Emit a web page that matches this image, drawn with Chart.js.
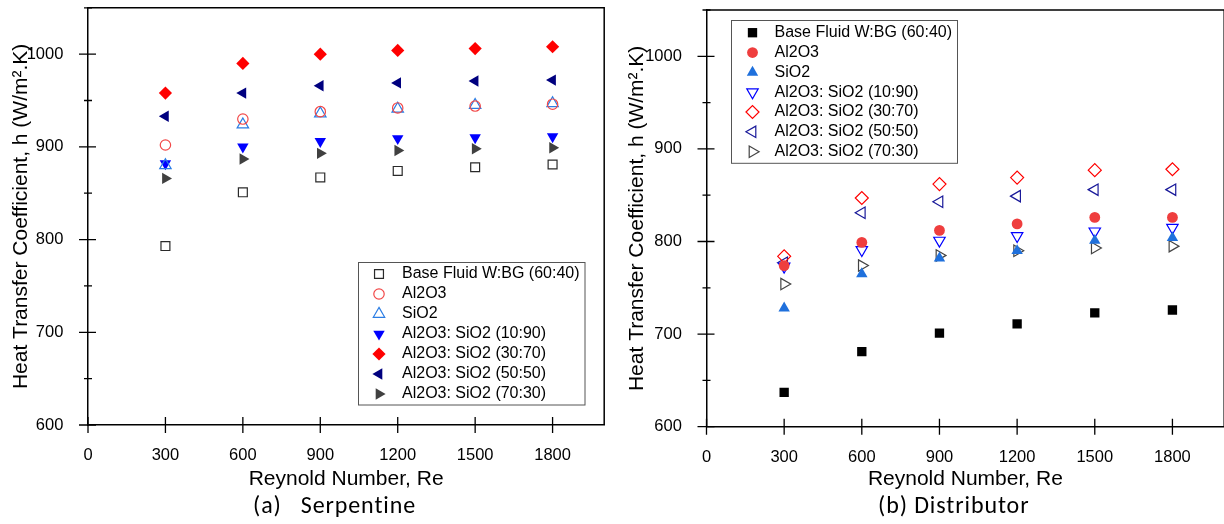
<!DOCTYPE html>
<html>
<head>
<meta charset="utf-8">
<script src="https://cdn.jsdelivr.net/npm/chart.js@4.4.0/dist/chart.umd.min.js"></script>
<style>
    body { margin: 0; width: 1224px; height: 524px; overflow: hidden; background: #fff; position: relative; }
    canvas { position: absolute; top: 0; }
    #serpentine { left: 0; }
    #distributor { left: 612px; }
    .caption { position: absolute; top: 493px; font: 24px Carlito, Lato, sans-serif; letter-spacing: 0.9px; line-height: 24px; white-space: pre; color: #000; }
</style>
</head>
<body>
<canvas id="serpentine" width="612" height="500"></canvas>
<canvas id="distributor" width="620" height="500"></canvas>
<div class="caption" style="left:253px">(a)   Serpentine</div>
<div class="caption" style="left:878px">(b) Distributor</div>
<script>
    const reynolds = [300, 600, 900, 1200, 1500, 1800];
    const seriesNames = ['Base Fluid W:BG (60:40)', 'Al2O3', 'SiO2', 'Al2O3: SiO2 (10:90)',
        'Al2O3: SiO2 (30:70)', 'Al2O3: SiO2 (50:50)', 'Al2O3: SiO2 (70:30)'];

    // heat transfer coefficient, serpentine channel
    const serpBase = [793, 851, 867, 874, 878, 881];
    const serpAl2O3 = [902, 930, 938, 942, 944, 946];
    const serpSiO2 = [880, 924, 936, 941, 945, 947];
    const serp1090 = [882, 900, 906, 909, 910, 911];
    const serp3070 = [958, 990, 1000, 1004, 1006, 1008];
    const serp5050 = [933, 958, 966, 969, 971, 972];
    const serp7030 = [866, 887, 893, 896, 898, 899];

    // heat transfer coefficient, distributor channel
    const distBase = [637, 681, 701, 711, 723, 726];
    const distAl2O3 = [774, 799, 812, 819, 826, 826];
    const distSiO2 = [728, 765, 782, 790, 801, 804];
    const dist1090 = [773, 791, 801, 806, 811, 815];
    const dist3070 = [784, 847, 862, 869, 877, 878];
    const dist5050 = [777, 831, 843, 849, 856, 856];
    const dist7030 = [754, 774, 785, 790, 793, 795];

    const FONT = "'Liberation Sans', Arial, sans-serif";

    const serpMarkers = [
        {style: 'rect', rot: 0, r: 6.3, color: '#2a2a2a', fill: false},
        {style: 'circle', rot: 0, r: 5.2, color: '#f24848', fill: false},
        {style: 'triangle', rot: 0, r: 6.6, color: '#2b7de4', fill: false},
        {style: 'triangle', rot: 180, r: 6.6, color: '#0000ff', fill: true},
        {style: 'rectRot', rot: 0, r: 6.6, color: '#ff0000', fill: true},
        {style: 'triangle', rot: -90, r: 6.6, color: '#00007f', fill: true},
        {style: 'triangle', rot: 90, r: 6.6, color: '#404040', fill: true}
    ];
    const distMarkers = [
        {style: 'rect', rot: 0, r: 6.6, color: '#000000', fill: true},
        {style: 'circle', rot: 0, r: 5.4, color: '#ef3e3e', fill: true},
        {style: 'triangle', rot: 0, r: 6.6, color: '#1f70dc', fill: true},
        {style: 'triangle', rot: 180, r: 6.6, color: '#0000ff', fill: false},
        {style: 'rectRot', rot: 0, r: 6.5, color: '#ff0000', fill: false},
        {style: 'triangle', rot: -90, r: 6.6, color: '#1a1a9a', fill: false},
        {style: 'triangle', rot: 90, r: 6.6, color: '#444444', fill: false}
    ];

    // ticks through the axis line, box outline and the in-plot legend
    const frame = {
        id: 'frame',
        afterDatasetsDraw(chart, args, opts) {
            const ctx = chart.ctx;
            const a = chart.chartArea;
            const xs = chart.scales.x, ys = chart.scales.y;
            ctx.save();
            ctx.strokeStyle = '#000';
            ctx.lineWidth = 1.5;
            ctx.beginPath();
            ctx.moveTo(a.left, a.top);
            ctx.lineTo(a.right, a.top);
            ctx.lineTo(a.right, a.bottom);
            ctx.stroke();

            ctx.lineWidth = 1.3;
            ctx.beginPath();
            xs.ticks.forEach(t => {
                const px = xs.getPixelForValue(t.value);
                ctx.moveTo(px, a.bottom - 8);
                ctx.lineTo(px, a.bottom + 8);
            });
            ys.ticks.forEach(t => {
                const py = ys.getPixelForValue(t.value);
                const major = t.value % 100 === 0;
                ctx.moveTo(a.left - (major ? 9 : 4), py);
                ctx.lineTo(a.left + (major ? 8 : 4), py);
            });
            ctx.stroke();

            const lg = opts.legend;
            ctx.lineWidth = 1;
            ctx.strokeStyle = '#555';
            ctx.strokeRect(lg.x, lg.y, lg.w, lg.h);
            ctx.font = '16px ' + FONT;
            ctx.textBaseline = 'middle';
            ctx.fillStyle = '#000';
            chart.data.datasets.forEach((ds, i) => {
                const cy = lg.first + i * lg.step;
                ctx.save();
                ctx.fillStyle = ds.backgroundColor;
                ctx.strokeStyle = ds.borderColor;
                ctx.lineWidth = ds.pointBorderWidth;
                Chart.helpers.drawPoint(ctx, {
                    pointStyle: ds.pointStyle, rotation: ds.pointRotation,
                    radius: ds.pointRadius, borderWidth: ds.pointBorderWidth
                }, lg.marker, cy);
                ctx.restore();
                ctx.fillText(ds.label, lg.text, cy);
            });
            ctx.restore();
        }
    };

    function buildChart(id, valueSets, markers, cfg) {
        const datasets = valueSets.map((vals, i) => {
            const m = markers[i];
            return {
                label: seriesNames[i],
                data: reynolds.map((re, k) => ({x: re, y: vals[k]})),
                pointStyle: m.style,
                pointRotation: m.rot,
                pointRadius: m.r,
                pointHoverRadius: m.r,
                pointBorderWidth: m.fill ? 0 : 1.2,
                borderColor: m.color,
                backgroundColor: m.fill ? m.color : 'rgba(0,0,0,0)'
            };
        });
        return new Chart(document.getElementById(id), {
            type: 'scatter',
            data: {datasets: datasets},
            options: {
                responsive: false,
                animation: false,
                events: [],
                layout: {padding: {top: cfg.top, right: cfg.right, left: 0, bottom: 0}},
                plugins: {
                    legend: {display: false},
                    tooltip: {enabled: false},
                    frame: {legend: cfg.legend}
                },
                scales: {
                    x: {
                        type: 'linear', min: 0, max: 2000,
                        afterFit: s => { s.height = cfg.xh; s.paddingLeft = 0; s.paddingRight = 0; },
                        grid: {display: false},
                        border: {display: true, color: '#000', width: 1.5},
                        ticks: {stepSize: 300, includeBounds: false, maxRotation: 0, padding: 13,
                            color: '#000', font: {size: 16.5, family: FONT}, callback: v => String(v)},
                        title: {display: true, text: 'Reynold Number, Re', color: '#000',
                            font: {size: 21, family: FONT}, padding: {top: 0, bottom: 8.4}}
                    },
                    y: {
                        type: 'linear', min: 600, max: 1050,
                        afterFit: s => { s.width = cfg.yw; s.paddingTop = 0; s.paddingBottom = 0; },
                        grid: {display: false},
                        border: {display: true, color: '#000', width: 1.5},
                        ticks: {stepSize: 50, padding: 16.6, color: '#000', font: {size: 16.5, family: FONT},
                            callback: v => (v % 100 === 0 ? String(v) : '')},
                        title: {display: true, text: 'Heat Transfer Coefficient, h (W/m\u00B2.K)', color: '#000',
                            font: {size: 21, family: FONT}, padding: {top: cfg.ytp, bottom: 0}}
                    }
                }
            },
            plugins: [frame]
        });
    }

    buildChart('serpentine',
        [serpBase, serpAl2O3, serpSiO2, serp1090, serp3070, serp5050, serp7030], serpMarkers,
        {top: 7, right: 5, xh: 75, yw: 88, ytp: 8.4,
            legend: {x: 358.5, y: 262.5, w: 226.5, h: 142.5, marker: 379, text: 402, first: 274, step: 20}});

    buildChart('distributor',
        [distBase, distAl2O3, distSiO2, dist1090, dist3070, dist5050, dist7030], distMarkers,
        {top: 10, right: 5, xh: 73.3, yw: 94.5, ytp: 12.4,
            legend: {x: 119.5, y: 20.5, w: 226, h: 142.8, marker: 140.5, text: 162.5, first: 32.7, step: 19.83}});
</script>
</body>
</html>
